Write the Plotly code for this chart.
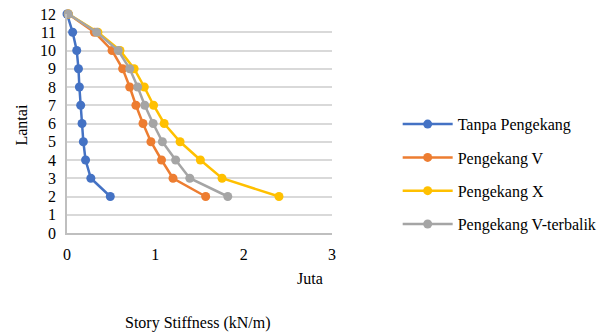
import plotly.graph_objects as go

# Story number (Lantai) for each stiffness reading
lantai = [12, 11, 10, 9, 8, 7, 6, 5, 4, 3, 2]

# Story stiffness in millions of kN/m ("Juta")
tanpa_pengekang = [0.00, 0.064, 0.11, 0.13, 0.14, 0.155, 0.17, 0.185, 0.21, 0.27, 0.49]
pengekang_v = [0.015, 0.31, 0.51, 0.63, 0.71, 0.78, 0.86, 0.95, 1.07, 1.20, 1.57]
pengekang_x = [0.015, 0.35, 0.60, 0.76, 0.875, 0.98, 1.10, 1.28, 1.51, 1.755, 2.40]
pengekang_v_terbalik = [0.015, 0.336, 0.58, 0.71, 0.80, 0.88, 0.975, 1.08, 1.23, 1.39, 1.82]

series_names = ["Tanpa Pengekang", "Pengekang V", "Pengekang X", "Pengekang V-terbalik"]
series_values = [tanpa_pengekang, pengekang_v, pengekang_x, pengekang_v_terbalik]
series_colors = ["#4472C4", "#ED7D31", "#FFC000", "#A5A5A5"]

x_ticks = [0, 1, 2, 3]
y_ticks = list(range(0, 13))

FONT = "Liberation Serif, Times New Roman, serif"
FS = 16

fig = go.Figure()
for i, (name, vals, col) in enumerate(zip(series_names, series_values, series_colors)):
    fig.add_trace(go.Scatter(
        x=vals, y=lantai, name=name, mode="lines+markers",
        line=dict(color=col, width=2.5),
        marker=dict(color=col, size=9),
        legendgroup=str(i),
        cliponaxis=False,
    ))

fig.update_layout(
    width=609, height=336,
    margin=dict(l=67, r=277, t=14, b=103, autoexpand=False),
    paper_bgcolor="white", plot_bgcolor="white",
    font=dict(family=FONT, size=FS, color="#000000"),
    showlegend=True,
    legend=dict(
        xref="container", yref="container",
        x=0.653, xanchor="left", y=0.681, yanchor="top",
        tracegroupgap=9.5, font=dict(family=FONT, size=FS),
        bgcolor="rgba(0,0,0,0)", itemwidth=50,
    ),
    xaxis=dict(
        range=[0, 3], tickvals=x_ticks, ticktext=[str(v) for v in x_ticks],
        showgrid=False, zeroline=False,
        showline=True, linecolor="#BFBFBF", linewidth=1.5,
        ticks="", ticklabelstandoff=6,
    ),
    yaxis=dict(
        range=[0, 12], tickvals=y_ticks, ticktext=[str(v) for v in y_ticks],
        showgrid=True, gridcolor="#D9D9D9", gridwidth=1.5,
        zeroline=False, showline=True, linecolor="#BFBFBF", linewidth=1.5,
        ticks="", ticklabelstandoff=6,
    ),
    annotations=[
        dict(text="Lantai", x=-0.17, y=0.495, xref="paper", yref="paper",
             xanchor="center", yanchor="middle",
             textangle=-90, showarrow=False, font=dict(family=FONT, size=FS)),
        dict(text="Juta", x=0.917, y=-0.21, xref="paper", yref="paper",
             xanchor="center", yanchor="middle",
             showarrow=False, font=dict(family=FONT, size=FS)),
        dict(text="Story Stiffness (kN/m)", x=0.494, y=-0.413, xref="paper", yref="paper",
             xanchor="center", yanchor="middle",
             showarrow=False, font=dict(family=FONT, size=FS)),
    ],
)

fig.write_html("out.html")
